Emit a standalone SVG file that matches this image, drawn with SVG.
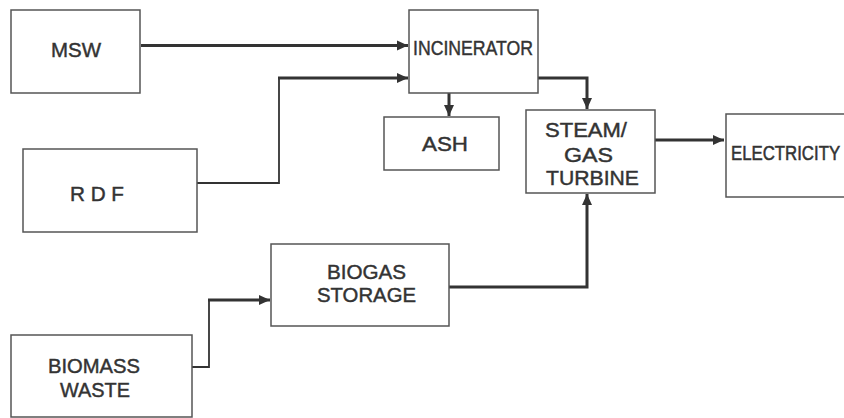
<svg xmlns="http://www.w3.org/2000/svg" width="844" height="418" viewBox="0 0 844 418">
<style>
.box{fill:#fff;stroke:#555;stroke-width:1.5}
.t{font-family:"Liberation Sans",Arial,sans-serif;font-size:21px;fill:#333;stroke:#333;stroke-width:0.45}
.c{fill:none;stroke:#333;stroke-width:3}
.thin{fill:none;stroke:#333;stroke-width:1.8}
</style>
<defs>
<marker id="ah" markerUnits="userSpaceOnUse" markerWidth="13" markerHeight="13" viewBox="0 0 13 13" refX="12" refY="6.5" orient="auto">
<path d="M1,1.5 L12,6.5 L1,11.5 Z" fill="#333"/>
</marker>
</defs>
<rect width="844" height="418" fill="#fff"/>
<g id="connectors">
<line class="c" x1="141" y1="45.5" x2="408" y2="45.5" marker-end="url(#ah)"/>
<polyline class="thin" points="197,183 279,183 279,78"/>
<line class="c" x1="278" y1="78" x2="408" y2="78" marker-end="url(#ah)"/>
<line class="c" x1="449" y1="93" x2="449" y2="116" marker-end="url(#ah)"/>
<polyline class="c" points="538,78 587,78 587,109" marker-end="url(#ah)"/>
<line class="c" x1="655" y1="140" x2="724" y2="140" marker-end="url(#ah)"/>
<polyline class="c" points="449,287 587,287 587,194" marker-end="url(#ah)"/>
<polyline class="thin" points="192,367 209,367 209,300"/>
<line class="c" x1="208" y1="300" x2="270" y2="300" marker-end="url(#ah)"/>
</g>
<g id="msw"><rect class="box" x="11" y="10" width="129" height="83"/><text class="t" x="51" y="57" textLength="50" lengthAdjust="spacingAndGlyphs">MSW</text></g>
<g id="incinerator"><rect class="box" x="409" y="10" width="129" height="83"/><text class="t" x="413" y="55" textLength="120" lengthAdjust="spacingAndGlyphs">INCINERATOR</text></g>
<g id="ash"><rect class="box" x="384" y="117" width="115" height="53"/><text class="t" x="422" y="151" textLength="46" lengthAdjust="spacingAndGlyphs">ASH</text></g>
<g id="turbine"><rect class="box" x="526" y="110" width="129" height="83"/>
<text class="t" x="545" y="137" textLength="82" lengthAdjust="spacingAndGlyphs">STEAM/</text>
<text class="t" x="564" y="162" textLength="49" lengthAdjust="spacingAndGlyphs">GAS</text>
<text class="t" x="546" y="185" textLength="93" lengthAdjust="spacingAndGlyphs">TURBINE</text></g>
<g id="electricity"><rect class="box" x="726" y="114" width="130" height="83"/><text class="t" transform="translate(731,160) scale(1,1.22)" x="0" y="0" style="font-size:16.8px">ELECTRICITY</text></g>
<g id="rdf"><rect class="box" x="23" y="149" width="174" height="83"/><text class="t" x="70" y="201" textLength="54" lengthAdjust="spacingAndGlyphs">R D F</text></g>
<g id="biogas"><rect class="box" x="271" y="244" width="178" height="82"/>
<text class="t" x="327" y="279" textLength="79" lengthAdjust="spacingAndGlyphs">BIOGAS</text>
<text class="t" x="317" y="302" textLength="99" lengthAdjust="spacingAndGlyphs">STORAGE</text></g>
<g id="biomass"><rect class="box" x="11" y="335" width="181" height="82"/>
<text class="t" x="48" y="373" textLength="92" lengthAdjust="spacingAndGlyphs">BIOMASS</text>
<text class="t" x="60" y="397" textLength="70" lengthAdjust="spacingAndGlyphs">WASTE</text></g>
</svg>
